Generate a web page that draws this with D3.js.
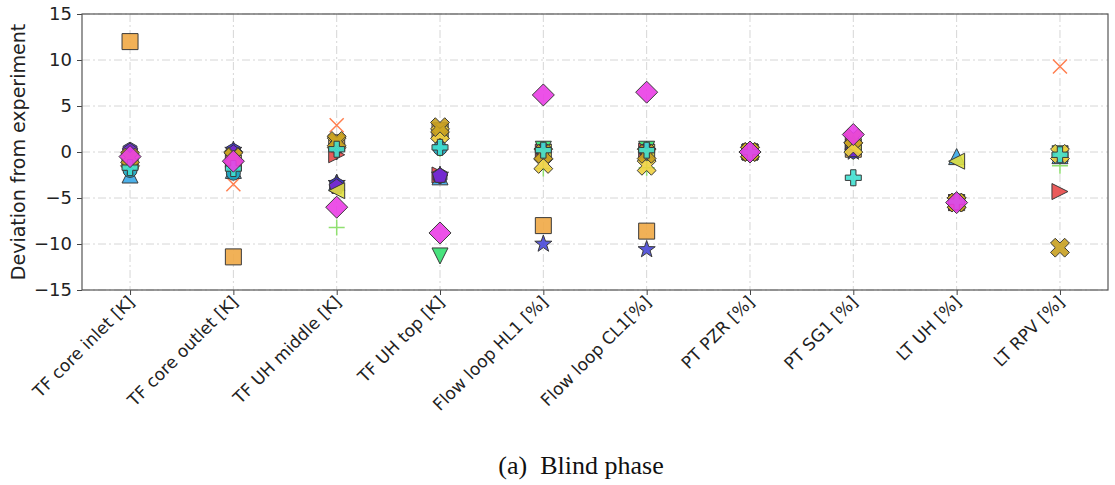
<!DOCTYPE html>
<html>
<head>
<meta charset="utf-8">
<script src="https://cdn.jsdelivr.net/npm/d3@7"></script>
<style>
  body { margin: 0; background: #fff; }
  svg { display: block; }
</style>
</head>
<body>
<div id="chart"></div>
<script>
// Categories along the x axis
const categories = [
  'TF core inlet [K]', 'TF core outlet [K]', 'TF UH middle [K]', 'TF UH top [K]',
  'Flow loop HL1 [%]', 'Flow loop CL1[%]', 'PT PZR [%]', 'PT SG1 [%]', 'LT UH [%]', 'LT RPV [%]'
]

// Y axis ticks
const yTicks = [-15, -10, -5, 0, 5, 10, 15]

// One array per participant (null = no result)
const squareOrange   = [12.0, -11.4, 1.0, 2.3, -8.0, -8.6, 0.0, 0.3, -5.5, null]
const xCoral         = [-1.0, -3.5, 2.9, 2.0, 0.0, 0.0, 0.0, 0.5, -5.5, 9.3]
const plusLightGreen = [-1.5, -1.5, -8.2, 0.3, -1.8, -1.7, 0.0, 0.0, -5.5, -1.5]
const triDownGreen   = [-1.2, -1.8, 0.0, -11.3, 0.3, 0.3, 0.0, 0.5, -5.5, -0.2]
const triUpBlue      = [-2.5, -2.0, -3.3, -2.7, 0.2, 0.1, 0.0, 1.0, -0.5, -0.4]
const circleTeal     = [-2.0, -2.3, 0.5, 0.4, 0.0, 0.0, 0.0, 0.2, -5.5, -0.3]
const triRightRed    = [-0.8, -0.8, -0.3, -2.5, 0.0, 0.1, 0.0, 1.0, -5.5, -4.3]
const starBlue       = [-0.3, 0.2, -3.4, -2.5, -10.0, -10.6, 0.0, 0.0, -5.4, null]
const hexBlue        = [0.2, 0.1, -3.6, -2.6, 0.2, 0.2, 0.0, 0.1, -5.4, null]
const pentPurple     = [0.1, -0.1, -3.8, -2.6, 0.1, 0.2, 0.0, 0.2, -5.4, null]
const triLeftYellow  = [-1.0, -1.2, -4.2, 2.2, 0.0, 0.0, 0.0, 0.6, -1.0, -0.2]
const xYellow        = [-1.0, -0.5, 1.0, 2.0, -1.3, -1.5, 0.0, 0.5, -5.5, -0.2]
const xGold          = [-0.6, -0.6, 1.2, 2.7, -0.2, -0.2, 0.0, 1.5, -5.5, -10.4]
const plusTurquoise  = [-1.7, -1.8, 0.3, 0.5, 0.2, 0.2, 0.0, -2.8, -5.4, -0.3]
const diamondMagenta = [-0.5, -1.0, -6.0, -8.8, 6.2, 6.5, 0.0, 1.9, -5.5, null]

// Marker path builders, centred on 0,0
const poly = pts => 'M' + pts.map(p => p[0].toFixed(2) + ',' + p[1].toFixed(2)).join('L') + 'Z'
const regular = (n, r, rot) => d3.range(n).map(i => {
  const a = rot + i * 2 * Math.PI / n
  return [r * Math.cos(a), r * Math.sin(a)]
})
const markers = {
  square: s => poly([[-s, -s], [s, -s], [s, s], [-s, s]]),
  diamond: s => poly([[0, -s], [s, 0], [0, s], [-s, 0]]),
  triUp: s => poly([[0, -s], [s, s], [-s, s]]),
  triDown: s => poly([[0, s], [s, -s], [-s, -s]]),
  triLeft: s => poly([[-s, 0], [s, -s], [s, s]]),
  triRight: s => poly([[s, 0], [-s, -s], [-s, s]]),
  circle: s => `M${-s},0A${s},${s} 0 1,0 ${s},0A${s},${s} 0 1,0 ${-s},0Z`,
  pentagon: s => poly(regular(5, s, -Math.PI / 2)),
  hexagon: s => poly(regular(6, s, -Math.PI / 2)),
  star: s => poly(d3.range(10).map(i => {
    const a = -Math.PI / 2 + i * Math.PI / 5
    const r = i % 2 ? s * 0.4 : s
    return [r * Math.cos(a), r * Math.sin(a)]
  })),
  plusFilled: s => {
    const w = s / 3
    return poly([[-w, -s], [w, -s], [w, -w], [s, -w], [s, w], [w, w], [w, s], [-w, s], [-w, w], [-s, w], [-s, -w], [-w, -w]])
  },
  xFilled: s => {
    const w = s / 3
    const pts = [[-w, -s], [w, -s], [w, -w], [s, -w], [s, w], [w, w], [w, s], [-w, s], [-w, w], [-s, w], [-s, -w], [-w, -w]]
    const c = Math.SQRT1_2
    return poly(pts.map(p => [(p[0] - p[1]) * c, (p[0] + p[1]) * c]))
  },
  xThin: s => `M${-s},${-s}L${s},${s}M${-s},${s}L${s},${-s}`,
  plusThin: s => `M${-s},0L${s},0M0,${-s}L0,${s}`
}

// Participants, in drawing order
const series = [
  { values: squareOrange, marker: 'square', size: 8, color: '#f0a845' },
  { values: xCoral, marker: 'xThin', size: 7, color: '#ff7f50', line: true },
  { values: plusLightGreen, marker: 'plusThin', size: 8, color: '#90e070', line: true },
  { values: triDownGreen, marker: 'triDown', size: 8, color: '#34e070' },
  { values: triUpBlue, marker: 'triUp', size: 8, color: '#38a8e8' },
  { values: circleTeal, marker: 'circle', size: 7, color: '#1aa8c2' },
  { values: triRightRed, marker: 'triRight', size: 8, color: '#e84848' },
  { values: starBlue, marker: 'star', size: 9, color: '#4848d8' },
  { values: hexBlue, marker: 'hexagon', size: 8, color: '#3a30d0' },
  { values: pentPurple, marker: 'pentagon', size: 8, color: '#7a2ad0' },
  { values: triLeftYellow, marker: 'triLeft', size: 8, color: '#e0e040' },
  { values: xYellow, marker: 'xFilled', size: 10, color: '#f0d040' },
  { values: xGold, marker: 'xFilled', size: 10, color: '#c8a020' },
  { values: plusTurquoise, marker: 'plusFilled', size: 8, color: '#40e0d0' },
  { values: diamondMagenta, marker: 'diamond', size: 11, color: '#ea3ee6' }
]

const W = 1115, H = 485
const margin = { top: 14, right: 7, bottom: 195, left: 82 }
const width = W - margin.left - margin.right
const height = H - margin.top - margin.bottom
const font = 'DejaVu Sans, sans-serif'

const svg = d3.select('#chart').append('svg')
  .attr('width', W)
  .attr('height', H)
  .style('font-family', font)

const g = svg.append('g').attr('transform', `translate(${margin.left},${margin.top})`)

const x = d3.scaleLinear().domain([-0.465, categories.length - 1 + 0.465]).range([0, width])
const y = d3.scaleLinear().domain([-15, 15]).range([height, 0])

// Grid lines, dash-dot like matplotlib '-.'
g.append('g').selectAll('line').data(yTicks).join('line')
  .attr('x1', 0).attr('x2', width)
  .attr('y1', d => y(d)).attr('y2', d => y(d))
  .attr('stroke', '#d6d6d6').attr('stroke-width', 1)
  .attr('stroke-dasharray', '8,3,2,3')
g.append('g').selectAll('line').data(d3.range(categories.length)).join('line')
  .attr('y1', 0).attr('y2', height)
  .attr('x1', d => x(d)).attr('x2', d => x(d))
  .attr('stroke', '#d6d6d6').attr('stroke-width', 1)
  .attr('stroke-dasharray', '8,3,2,3')

// Y axis
g.append('g')
  .call(d3.axisLeft(y).tickValues(yTicks).tickSize(5).tickPadding(5))
  .call(a => a.select('.domain').remove())
  .call(a => a.selectAll('.tick line').attr('stroke', '#444'))
  .call(a => a.selectAll('.tick text').attr('font-size', '18px').attr('fill', '#222').attr('font-family', font))

// X axis with rotated labels
g.append('g')
  .attr('transform', `translate(0,${height})`)
  .call(d3.axisBottom(x).tickValues(d3.range(categories.length)).tickSize(5).tickFormat(i => categories[i]))
  .call(a => a.select('.domain').remove())
  .call(a => a.selectAll('.tick line').attr('stroke', '#444'))
  .call(a => a.selectAll('.tick text')
    .attr('font-size', '17px').attr('fill', '#222')
    .attr('font-family', font)
    .attr('text-anchor', 'end')
    .attr('dy', null)
    .attr('y', 0)
    .attr('transform', 'translate(5,13) rotate(-45)'))

// Markers
series.forEach(s => {
  const pts = s.values.map((v, i) => ({ i, v })).filter(d => d.v !== null)
  const path = markers[s.marker](s.size)
  const sel = g.append('g').selectAll('path').data(pts).join('path')
    .attr('transform', d => `translate(${x(d.i)},${y(d.v)})`)
    .attr('d', path)
  if (s.line) {
    sel.attr('fill', 'none').attr('stroke', s.color).attr('stroke-width', 1.5)
  } else {
    sel.attr('fill', s.color).attr('fill-opacity', 0.9)
      .attr('stroke', '#3a3a3a').attr('stroke-width', 1)
  }
})

// Frame
g.append('rect')
  .attr('width', width).attr('height', height)
  .attr('fill', 'none').attr('stroke', '#555').attr('stroke-width', 1.2)

// Y axis title
svg.append('text')
  .attr('transform', `translate(25,${margin.top + height / 2}) rotate(-90)`)
  .attr('text-anchor', 'middle')
  .attr('font-size', '19px')
  .attr('fill', '#222')
  .text('Deviation from experiment')

// Caption
svg.append('text')
  .attr('x', 581).attr('y', 474)
  .attr('text-anchor', 'middle')
  .attr('font-family', 'Liberation Serif, Times New Roman, serif')
  .attr('font-size', '26px')
  .attr('fill', '#111')
  .attr('xml:space', 'preserve')
  .text('(a)  Blind phase')
</script>
</body>
</html>
